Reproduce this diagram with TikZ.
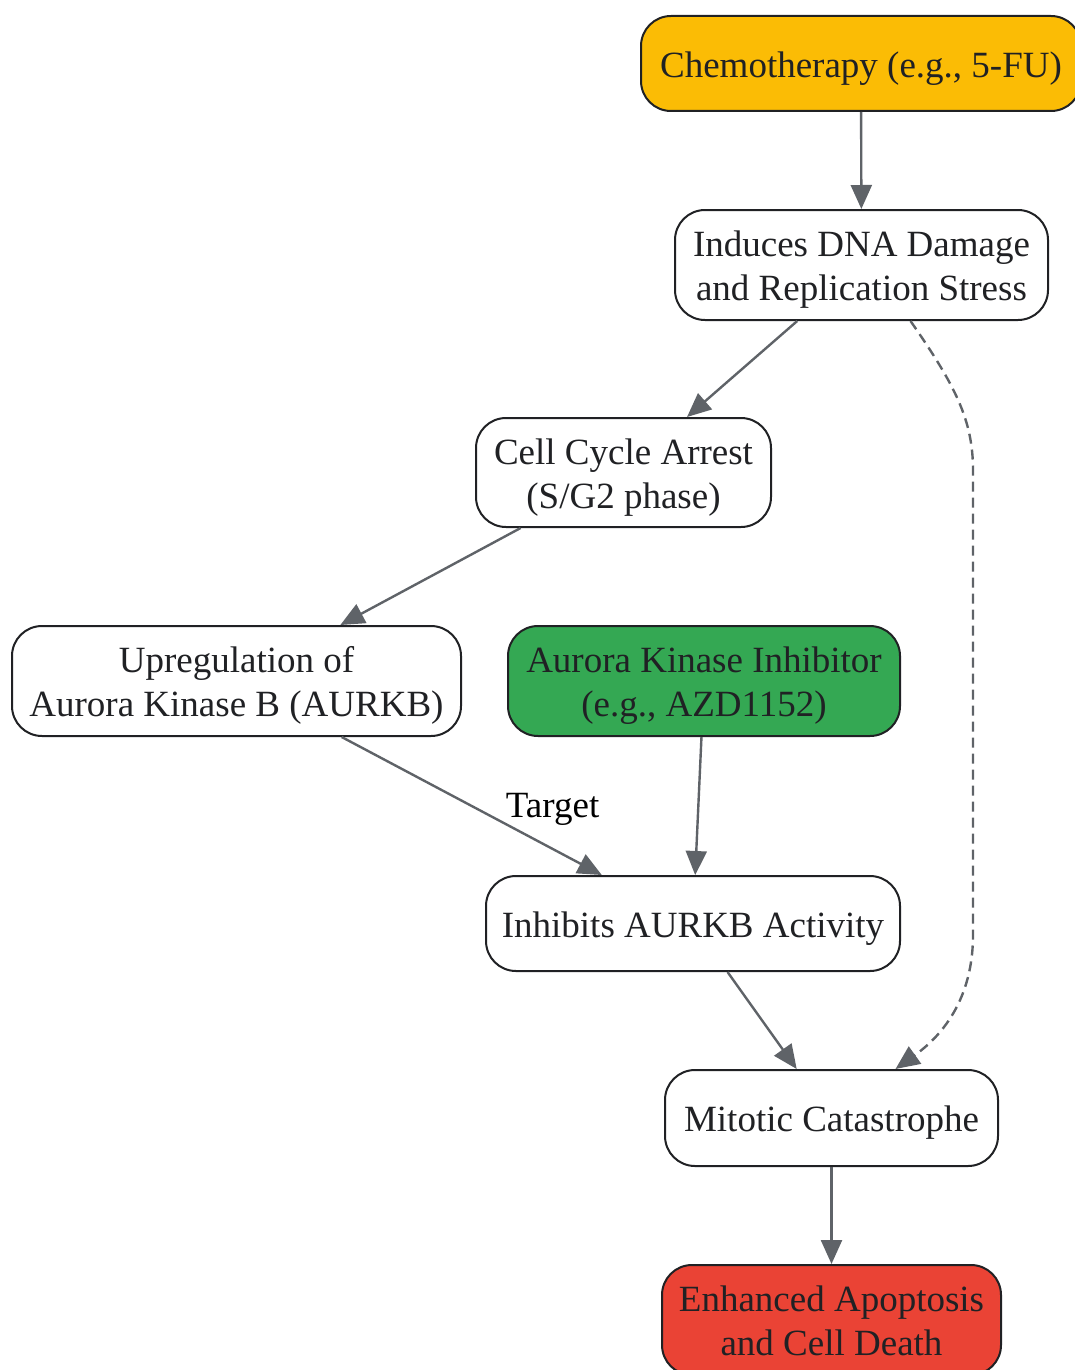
\documentclass[tikz,border=0pt]{standalone}
\usepackage{fontspec}
\setmainfont{Liberation Serif}
\usetikzlibrary{arrows.meta}
\definecolor{ink}{HTML}{202124}
\definecolor{edgegray}{HTML}{5F6368}
\definecolor{gyellow}{HTML}{FBBC05}
\definecolor{ggreen}{HTML}{34A853}
\definecolor{gred}{HTML}{EA4335}
\newsavebox\linesbox
\newcommand{\boxlines}[1]{\sbox\linesbox{\begin{tabular}{@{}c@{}}#1\end{tabular}}\raisebox{-5pt}[\ht\linesbox][\dp\linesbox]{\usebox\linesbox}}
\tikzset{
  box/.style={rectangle, rounded corners=30pt, draw=ink, line width=2pt, fill=white,
    text=ink, align=center, inner sep=0pt, font=\fontsize{37}{44}\selectfont},
  conn/.style={draw=edgegray, line width=2.4pt, -{Triangle[length=24pt,width=21pt]}},
}
\begin{document}
\begin{tikzpicture}[x=1pt,y=-1pt]
\useasboundingbox (0,0) rectangle (1075,1370);
\node[box, fill=gyellow, minimum width=440pt, minimum height=95pt] (chemo) at (861,63.5) {\boxlines{Chemotherapy (e.g., 5-FU)}};
\node[box, minimum width=373pt, minimum height=110pt] (dna) at (861.5,265) {\boxlines{Induces DNA Damage\\and Replication Stress}};
\node[box, minimum width=295pt, minimum height=109pt] (arrest) at (623.5,472.5) {\boxlines{Cell Cycle Arrest\\(S/G2 phase)}};
\node[box, minimum width=449pt, minimum height=110pt] (upreg) at (236.5,681) {\boxlines{Upregulation of\\Aurora Kinase B (AURKB)}};
\node[box, fill=ggreen, minimum width=392pt, minimum height=110pt] (inhib) at (704,681) {\boxlines{Aurora Kinase Inhibitor\\(e.g., AZD1152)}};
\node[box, minimum width=414pt, minimum height=95pt] (act) at (693,923.5) {\boxlines{Inhibits AURKB Activity}};
\node[box, minimum width=333pt, minimum height=96pt] (mito) at (831.5,1118) {\boxlines{Mitotic Catastrophe}};
\node[box, fill=gred, minimum width=339pt, minimum height=110pt] (apop) at (831.5,1320) {\boxlines{Enhanced Apoptosis\\and Cell Death}};

\draw[conn] (chemo) -- (dna);
\draw[conn] (dna) -- (arrest);
\draw[conn] (arrest) -- (upreg);
\draw[conn] (upreg) -- node[midway, anchor=west, xshift=31pt, yshift=-3pt, text=black, inner sep=2pt, font=\fontsize{37}{44}\selectfont] (tlabel) {Target} (act);
\draw[conn] (inhib) -- (act);
\draw[conn] (act) -- (mito);
\draw[conn, dashed, dash pattern=on 10pt off 6pt] ([xshift=49pt]dna.south) .. controls (955,385) and (973,420) .. (973,470) -- (973,935) .. controls (973,990) and (950,1030) .. ([xshift=64pt]mito.north);
\draw[conn] (mito) -- (apop);
\end{tikzpicture}
\end{document}
